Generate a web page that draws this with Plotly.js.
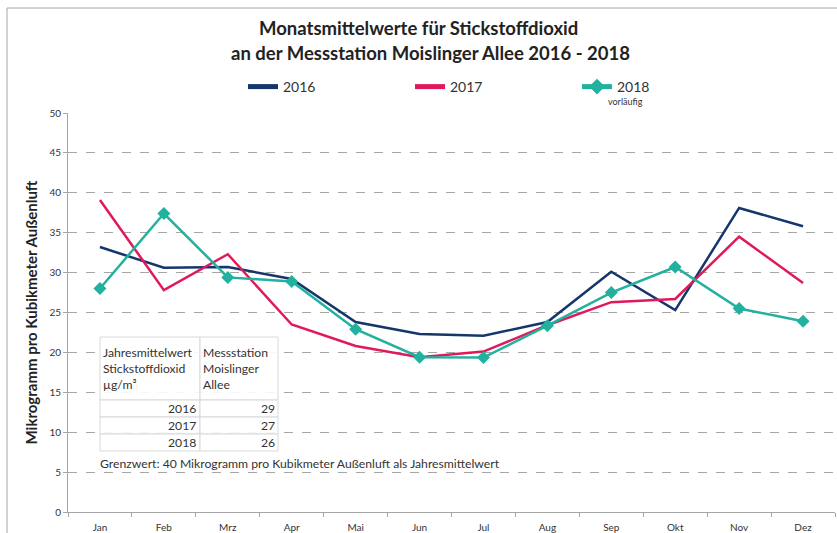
<!DOCTYPE html>
<html>
<head>
<meta charset="utf-8">
<script src="https://cdn.plot.ly/plotly-3.0.1.min.js"></script>
<style>html,body{margin:0;padding:0;background:#fff;}#chart{width:837px;height:533px;}</style>
</head>
<body>
<div id="chart"></div>
<script>
const months = ["Jan","Feb","Mrz","Apr","Mai","Jun","Jul","Aug","Sep","Okt","Nov","Dez"];
const values2016 = [33.2, 30.6, 30.7, 29.2, 23.8, 22.3, 22.1, 23.8, 30.1, 25.3, 38.1, 35.8];
const values2017 = [39.1, 27.8, 32.3, 23.5, 20.8, 19.4, 20.1, 23.4, 26.3, 26.7, 34.5, 28.7];
const values2018 = [28.0, 37.4, 29.4, 28.9, 22.9, 19.4, 19.35, 23.35, 27.5, 30.7, 25.5, 23.9];
const tableYears = ["2016","2017","2018"];
const tableValues = ["29","27","26"];
const tableHeader1 = "Jahresmittelwert<br>Stickstoffdioxid<br>µg/m³";
const tableHeader2 = "Messstation<br>Moislinger<br>Allee";
const noteText = "Grenzwert: 40 Mikrogramm pro Kubikmeter Außenluft als Jahresmittelwert";
const titleLines = ["Monatsmittelwerte für Stickstoffdioxid", "an der Messstation Moislinger Allee 2016 - 2018"];

const W = 837, H = 533;
const M = {l: 68, r: 2, t: 113, b: 21};
const pw = W - M.l - M.r, ph = H - M.t - M.b;
const px = x => (x - M.l) / pw;
const py = y => (H - M.b - y) / ph;

const FONT = "Lato, 'Open Sans', sans-serif";
const c2016 = "#15366B", c2017 = "#E0195A", c2018 = "#22B19E";

const traces = [
  {x: months, y: values2016, name: "2016", type: "scatter", mode: "lines",
   line: {color: c2016, width: 2.5}},
  {x: months, y: values2017, name: "2017", type: "scatter", mode: "lines",
   line: {color: c2017, width: 2.5}},
  {x: months, y: values2018, name: "2018", type: "scatter", mode: "lines+markers",
   line: {color: c2018, width: 2.5}, marker: {symbol: "diamond", size: 10, color: c2018}}
];

const shapes = [];
const annotations = [];
const cellLine = {color: "#d9d9d9", width: 1};
function rect(x0, y0, x1, y1) {
  shapes.push({type: "rect", xref: "paper", yref: "paper", x0: px(x0), x1: px(x1), y0: py(y1), y1: py(y0), line: cellLine, fillcolor: "rgba(255,255,255,0.9)", layer: "above"});
}
const colX = [100, 200, 278];
const rowY = [337, 400, 417, 434, 451];
for (let r = 0; r < 4; r++) {
  rect(colX[0], rowY[r], colX[1], rowY[r+1]);
  rect(colX[1], rowY[r], colX[2], rowY[r+1]);
}
const tFont = {family: FONT, size: 12.2, color: "#333"};
annotations.push({xref: "paper", yref: "paper", x: px(101), y: py(368), xanchor: "left", yanchor: "middle", align: "left", text: tableHeader1, showarrow: false, font: tFont});
annotations.push({xref: "paper", yref: "paper", x: px(201), y: py(368), xanchor: "left", yanchor: "middle", align: "left", text: tableHeader2, showarrow: false, font: tFont});
tableYears.forEach((yr, i) => {
  const yc = (rowY[i+1] + rowY[i+2]) / 2;
  annotations.push({xref: "paper", yref: "paper", x: px(198), y: py(yc), xanchor: "right", yanchor: "middle", text: yr, showarrow: false, font: tFont});
  annotations.push({xref: "paper", yref: "paper", x: px(277), y: py(yc), xanchor: "right", yanchor: "middle", text: tableValues[i], showarrow: false, font: tFont});
});
annotations.push({xref: "paper", yref: "paper", x: px(98), y: py(463), xanchor: "left", yanchor: "middle", text: noteText, showarrow: false, font: tFont});
annotations.push({xref: "paper", yref: "paper", x: px(625), y: py(101), xanchor: "center", yanchor: "middle", text: "vorläufig", showarrow: false, font: {family: FONT, size: 9, color: "#333"}});
// title lines
annotations.push({xref: "paper", yref: "paper", x: px(418), y: py(28), xanchor: "center", yanchor: "middle", text: "<b>" + titleLines[0] + "</b>", showarrow: false, font: {family: FONT, size: 18.5, color: "#222"}});
annotations.push({xref: "paper", yref: "paper", x: px(430), y: py(53), xanchor: "center", yanchor: "middle", text: "<b>" + titleLines[1] + "</b>", showarrow: false, font: {family: FONT, size: 18.5, color: "#222"}});

// outer chart frame
shapes.push({type: "rect", xref: "paper", yref: "paper", x0: px(7), x1: px(900), y0: py(600), y1: py(8), line: {color: "#a6a6a6", width: 1}, layer: "below"});

const layout = {
  width: W, height: H,
  margin: M,
  paper_bgcolor: "#fff", plot_bgcolor: "#fff",
  font: {family: FONT, color: "#333"},
  showlegend: true,
  legend: {orientation: "h", x: px(243), xanchor: "left", y: py(87), yanchor: "middle",
           entrywidth: 122, entrywidthmode: "pixels", font: {family: FONT, size: 14, color: "#333"},
           bgcolor: "rgba(0,0,0,0)", traceorder: "normal", itemsizing: "constant"},
  xaxis: {type: "category", tickson: "boundaries", ticks: "outside", ticklen: 4, tickcolor: "#a6a6a6",
          showline: true, linecolor: "#a6a6a6", linewidth: 1, showgrid: false, zeroline: false,
          ticklabelstandoff: 6,
          tickfont: {family: FONT, size: 10, color: "#333"}, range: [-0.5, 11.5], fixedrange: true},
  yaxis: {range: [0, 50], dtick: 5, tick0: 0, ticks: "outside", ticklen: 4, tickcolor: "#a6a6a6",
          showline: true, linecolor: "#a6a6a6", linewidth: 1,
          showgrid: true, gridcolor: "#a6a6a6", griddash: "dash", gridwidth: 1, zeroline: false,
          tickfont: {family: FONT, size: 10, color: "#333"},
          title: {text: "<b>Mikrogramm pro Kubikmeter Außenluft</b>", font: {family: FONT, size: 15, color: "#222"}, standoff: 8}},
  shapes: shapes,
  annotations: annotations
};

Plotly.newPlot("chart", traces, layout, {displayModeBar: false, staticPlot: true});
</script>
</body>
</html>
